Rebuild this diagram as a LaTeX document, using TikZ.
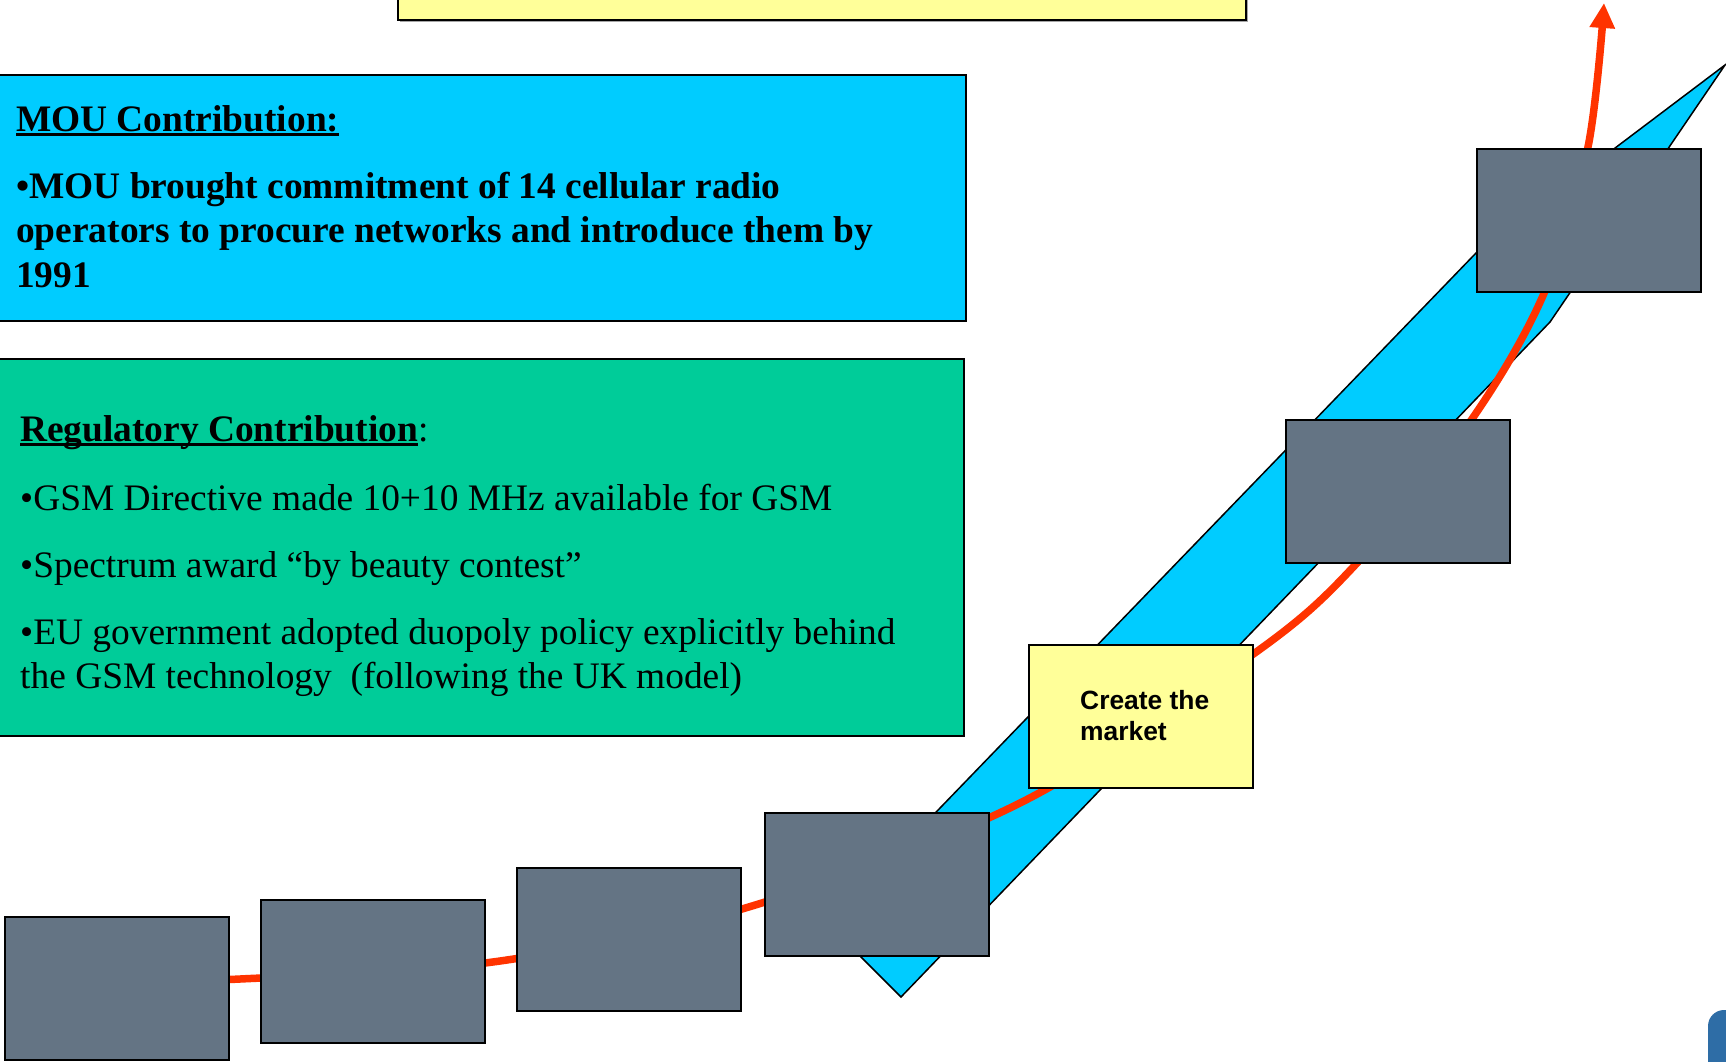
\documentclass[tikz,border=0pt]{standalone}
\usepackage{fontspec}
\setmainfont{Liberation Serif}
\newfontfamily\arialfont{Liberation Sans}
\usetikzlibrary{arrows.meta}
\definecolor{moublue}{HTML}{00CCFF}
\definecolor{reggreen}{HTML}{00CC99}
\definecolor{slate}{HTML}{647484}
\definecolor{paleyellow}{HTML}{FFFF99}
\definecolor{curvered}{HTML}{FF3300}
\definecolor{cornerblue}{HTML}{2E6DA6}
\newcommand\thickul[1]{\setbox0\hbox{#1}\rlap{\rule[-5pt]{\wd0}{2.8pt}}\box0}
\begin{document}
\begin{tikzpicture}[x=1pt,y=-1pt,
  panel/.style={draw=black, line width=2pt, anchor=north west, inner sep=0pt},
  stagebox/.style={panel, fill=slate, minimum width=224pt, minimum height=143pt},
  bodytext/.style={anchor=base west, inner sep=0pt, font=\fontsize{37.4}{44}\selectfont},
  boldtext/.style={bodytext, font=\fontsize{37.4}{44}\selectfont\bfseries},
  labeltext/.style={anchor=base west, inner sep=0pt, font=\arialfont\fontsize{26.4}{31}\selectfont\bfseries},
  growth/.style={draw=curvered, line width=7.5pt}
]
\useasboundingbox (0,0) rectangle (1726,1061);
\fill[white] (0,0) rectangle (1726,1061);

% top yellow box (cut by page edge)
\fill[gray!70] (400,-10) rectangle (1248,22);
\node[panel, fill=paleyellow, minimum width=848pt, minimum height=29pt] (topbox) at (397,-10) {};

% MOU box
\node[panel, fill=moublue, minimum width=970pt, minimum height=246pt] (mou) at (-5,74) {};
\node[boldtext] (mout) at (16,131) {\thickul{MOU Contribution:}};
\node[boldtext] (moua) at (16,198) {\textbullet MOU brought commitment of 14 cellular radio};
\node[boldtext] (moub) at (16,242) {operators to procure networks and introduce them by};
\node[boldtext] (mouc) at (16,287) {1991};

% Regulatory box
\node[panel, fill=reggreen, minimum width=968pt, minimum height=377pt] (reg) at (-5,358) {};
\node[bodytext] (regt) at (20,441) {\thickul{\bfseries Regulatory Contribution}:};
\node[bodytext] (rega) at (20,510) {\textbullet GSM Directive made 10+10 MHz available for GSM};
\node[bodytext] (regb) at (20,577) {\textbullet Spectrum award “by beauty contest”};
\node[bodytext] (regc) at (20,644) {\textbullet EU government adopted duopoly policy explicitly behind};
\node[bodytext] (regd) at (20,688) {the GSM technology\ \ (following the UK model)};

% blue band
\coordinate (bandtip) at (901,997);
\coordinate (bandtail) at (828,924);
\coordinate (bandbendA) at (1476,253);
\coordinate (bandhead) at (1725,65);
\coordinate (bandbendB) at (1550,322);
\filldraw[fill=moublue, draw=black, line width=1.5pt, line join=miter]
  (bandtip) -- (bandtail) -- (bandbendA) -- (bandhead) -- (bandbendB) -- cycle;

% red growth curve
\draw[growth, -{Triangle[width=24pt,length=25pt]}]
  plot[smooth, tension=0.55] coordinates {(120,980) (240,979) (500,961) (752,906) (1020,803) (1252,655) (1357,563) (1472,419) (1545,291) (1588,147) (1604,3)};

% stage boxes
\node[stagebox] (s1) at (4,916) {};
\node[stagebox] (s2) at (260,899) {};
\node[stagebox] (s3) at (516,867) {};
\node[stagebox] (s4) at (764,812) {};
\node[stagebox] (s5) at (1285,419) {};
\node[stagebox] (s6) at (1476,148) {};

% create the market
\node[panel, fill=paleyellow, minimum width=224pt, minimum height=143pt] (market) at (1028,644) {};
\node[labeltext] (marketa) at (1080,709) {Create the};
\node[labeltext] (marketb) at (1080,740) {market};

% corner shape
\fill[cornerblue, rounded corners=16pt] (1708,1010) rectangle (1790,1120);
\end{tikzpicture}
\end{document}
